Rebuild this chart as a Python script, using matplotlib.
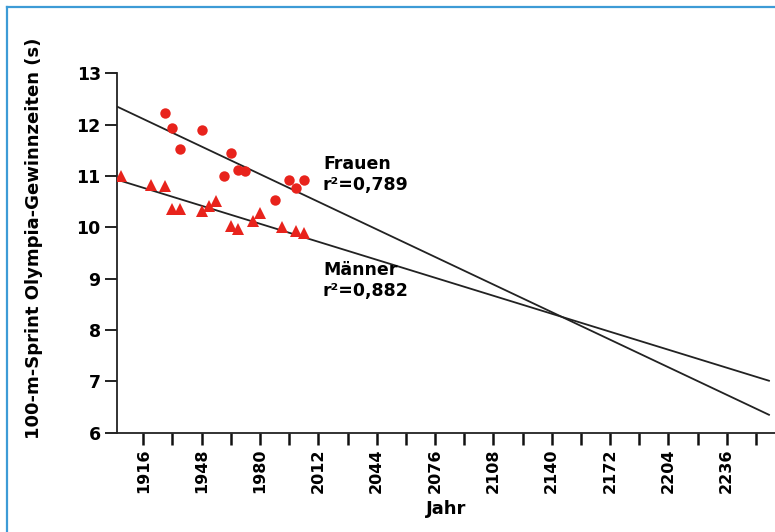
import numpy as np
import matplotlib.pyplot as plt
from matplotlib.lines import Line2D

# winning times, 100 m olympic sprint
frauen_jahr = [1928, 1932, 1936, 1948, 1960, 1964, 1968, 1972, 1988, 1996, 2000, 2004]
frauen_zeit = [12.22, 11.94, 11.52, 11.90, 11.01, 11.44, 11.11, 11.09, 10.54, 10.93, 10.77, 10.93]

maenner_jahr = [1904, 1920, 1928, 1932, 1936, 1948, 1952, 1956, 1964, 1968, 1976, 1980, 1992, 2000, 2004]
maenner_zeit = [11.0, 10.82, 10.81, 10.35, 10.35, 10.32, 10.42, 10.52, 10.03, 9.97, 10.12, 10.27, 10.0, 9.92, 9.88]

# regression lines (slope, intercept)
frauen_fit = [-0.0168, 44.30]
maenner_fit = [-0.01096, 31.77]

x_labels = [1916, 1948, 1980, 2012, 2044, 2076, 2108, 2140, 2172, 2204, 2236]
y_ticks = [6, 7, 8, 9, 10, 11, 12, 13]

plt.rcParams['font.family'] = ['DejaVu Sans']
plt.rcParams['font.weight'] = 'bold'

fig = plt.figure(figsize=(7.75, 5.32), dpi=100)
ax = fig.add_axes([0.1506, 0.187, 1.0 - 0.1506, 0.862 - 0.187])

rot = '#e8231c'
ax.plot(frauen_jahr, frauen_zeit, 'o', color=rot, markersize=7.5, markeredgewidth=0, zorder=3)
ax.plot(maenner_jahr, maenner_zeit, '^', color=rot, markersize=8, markeredgewidth=0, zorder=3)

xs = np.array([1901.4, 2259.2])
ax.plot(xs, frauen_fit[0] * xs + frauen_fit[1], color='#222222', lw=1.3, zorder=2)
ax.plot(xs, maenner_fit[0] * xs + maenner_fit[1], color='#222222', lw=1.3, zorder=2)

ax.set_xlim(1901.4, 2262.5)
ax.set_ylim(6, 13)

ax.set_xticks(x_labels)
ax.set_xticklabels([str(j) for j in x_labels], rotation=90, fontsize=11.5, fontweight='bold')
ax.set_xticks(np.arange(1932, 2260, 32), minor=True)
ax.set_yticks(y_ticks)
ax.set_yticklabels([str(v) for v in y_ticks], fontsize=12.5, fontweight='bold')

ax.tick_params(axis='x', which='both', direction='out', length=8.5, width=1.8, pad=3, color='#111111')
ax.tick_params(axis='y', direction='out', length=8.5, width=1.3, pad=3, color='#111111')

for s in ['top', 'right']:
    ax.spines[s].set_visible(False)
for s in ['left', 'bottom']:
    ax.spines[s].set_linewidth(1.3)
    ax.spines[s].set_color('#222222')

ax.set_xlabel('Jahr', fontsize=13, fontweight='bold', labelpad=5)
ax.set_ylabel('100-m-Sprint Olympia-Gewinnzeiten (s)', fontsize=13, fontweight='bold')
ax.yaxis.set_label_coords(-0.112, 0.542)

ax.text(2014.5, 11.13, 'Frauen', fontsize=12.5, fontweight='bold', va='baseline')
ax.text(2014.5, 10.72, 'r²=0,789', fontsize=12.5, fontweight='bold', va='baseline')
ax.text(2014.5, 9.08, 'Männer', fontsize=12.5, fontweight='bold', va='baseline')
ax.text(2014.5, 8.66, 'r²=0,882', fontsize=12.5, fontweight='bold', va='baseline')

# blue frame, top and left
blau = '#3d9bd6'
fig.add_artist(Line2D([6.7 / 775, 1.0], [1 - 6.7 / 532, 1 - 6.7 / 532], color=blau, lw=1.6))
fig.add_artist(Line2D([6.7 / 775, 6.7 / 775], [0, 1 - 6.7 / 532], color=blau, lw=1.6))

fig.savefig('out.png', dpi=100)
